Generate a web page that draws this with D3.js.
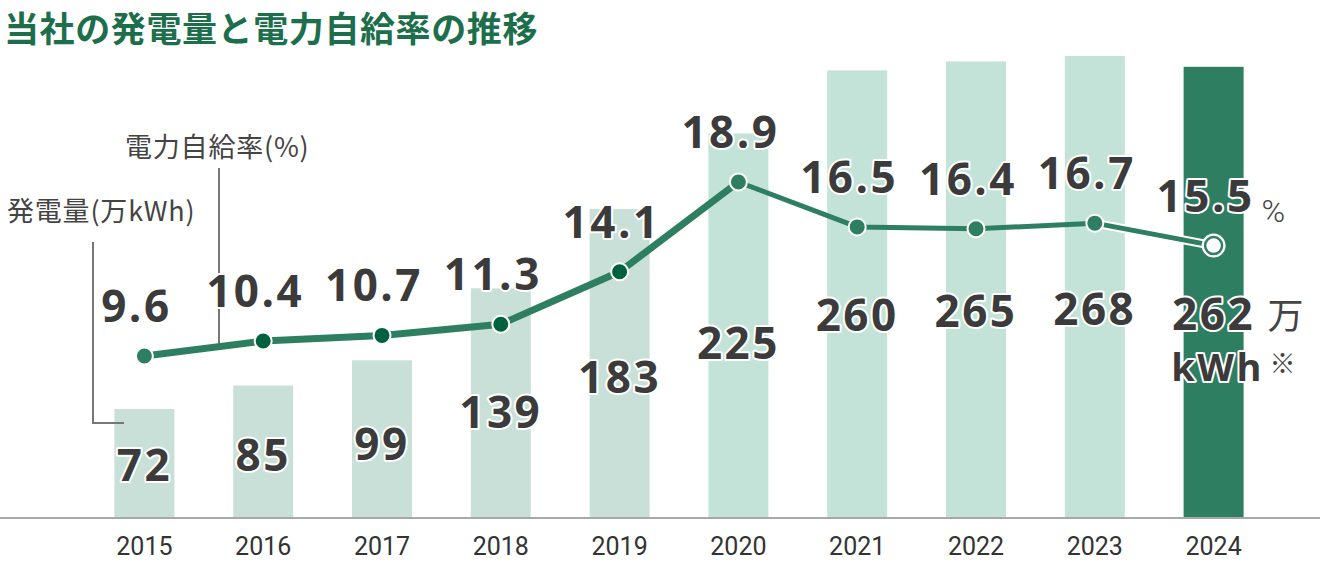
<!DOCTYPE html>
<html><head><meta charset="utf-8">
<script src="https://cdn.jsdelivr.net/npm/d3@7/dist/d3.min.js"></script>
<style>
body{margin:0;background:#fff}
svg{display:block}
.num{font-family:"Open Sans","Noto Sans",sans-serif;font-weight:700;fill:#3b3b3b;stroke:#fff;stroke-width:4px;paint-order:stroke;stroke-linejoin:round;letter-spacing:2.5px}
</style>
</head><body>
<svg id="c" width="1320" height="562"></svg>
<script>
// ---- data ----
const years = ["2015","2016","2017","2018","2019","2020","2021","2022","2023","2024"];
const generation = [72, 85, 99, 139, 183, 225, 260, 265, 268, 262];      // 万kWh
const selfRate = [9.6, 10.4, 10.7, 11.3, 14.1, 18.9, 16.5, 16.4, 16.7, 15.5]; // %
const titleText = "当社の発電量と電力自給率の推移";
const genAxisLabel = "発電量(万kWh)";
const rateAxisLabel = "電力自給率(%)";
const rateUnit = "%";
const genUnit1 = "万";
const genUnit2 = "kWh";
const noteMark = "※";

// ---- layout ----
const W = 1320, H = 562, baseY = 517;
const svg = d3.select("#c");

const x = d3.scaleBand().domain(years).range([85, 1273]).paddingInner(0.495).paddingOuter(0.2475);
const yBar = d3.scaleLinear().domain([12, 268]).range([baseY, 56]);
const yRate = d3.scaleLinear().domain([9.6, 18.9]).range([356, 182]);
const yGenLabel = d3.scaleLinear().domain([72, 268]).range([481, 325]);
const cx = d => x(d) + x.bandwidth() / 2;
const fmt1 = d3.format(".1f");
const green = "#2e7f62";

// title
svg.append("text").attr("x", 4).attr("y", 42)
  .attr("font-family", '"Noto Sans CJK JP",sans-serif').attr("font-weight", 700)
  .attr("font-size", 35).attr("letter-spacing", "0.6px").attr("fill", "#1d6f4b").text(titleText);

// bars
const barFill = i => i === years.length - 1 ? green : (i < 5 ? "#c9e0d8" : "#c3e3d8");
svg.append("g").selectAll("rect").data(generation).join("rect")
  .attr("x", (d, i) => x(years[i])).attr("width", x.bandwidth())
  .attr("y", d => yBar(d)).attr("height", d => baseY - yBar(d))
  .attr("fill", (d, i) => barFill(i));

// axis baseline
svg.append("line").attr("x1", 0).attr("x2", W).attr("y1", baseY + 1).attr("y2", baseY + 1)
  .attr("stroke", "#a8a8a8").attr("stroke-width", 2);

// x axis
const ax = svg.append("g").attr("transform", `translate(0,${baseY + 2})`)
  .call(d3.axisBottom(x).tickSize(0).tickPadding(18));
ax.select(".domain").remove();
ax.selectAll("text").attr("font-family", "Roboto,sans-serif").attr("font-size", 25).attr("fill", "#333");

// leader lines + axis labels
const pts = selfRate.map((v, i) => [cx(years[i]), yRate(v)]);
const leadX = 219;
const t = (leadX - pts[0][0]) / (pts[1][0] - pts[0][0]);
const leadEndY = pts[0][1] + t * (pts[1][1] - pts[0][1]);
svg.append("path").attr("d", `M${leadX},168V${leadEndY}`).attr("stroke", "#777").attr("stroke-width", 2).attr("fill", "none");
svg.append("path").attr("d", `M93,242V423H124`).attr("stroke", "#777").attr("stroke-width", 2).attr("fill", "none");

const lblStyle = s => s.attr("font-family", '"Noto Sans CJK JP",sans-serif').attr("font-size", 27)
  .attr("fill", "#444").attr("letter-spacing", "0.8px");
svg.append("text").attr("x", 125).attr("y", 157).text(rateAxisLabel).call(lblStyle);
svg.append("text").attr("x", 7).attr("y", 221).text(genAxisLabel).call(lblStyle);

// line
const line = d3.line();
svg.append("path").attr("d", line(pts.slice(8))).attr("stroke", "#fff").attr("stroke-width", 9)
  .attr("fill", "none");
svg.append("path").attr("d", line(pts.slice(0, 6))).attr("stroke", green).attr("stroke-width", 7)
  .attr("fill", "none").attr("stroke-linejoin", "round");
svg.append("path").attr("d", line(pts.slice(5))).attr("stroke", green).attr("stroke-width", 5)
  .attr("fill", "none").attr("stroke-linejoin", "round");

// points
const last = years.length - 1;
svg.append("circle").attr("cx", pts[last][0]).attr("cy", pts[last][1]).attr("r", 12).attr("fill", "#fff");
svg.append("g").selectAll("circle").data(selfRate).join("circle")
  .attr("cx", (d, i) => cx(years[i])).attr("cy", d => yRate(d)).attr("r", 8.5)
  .attr("fill", (d, i) => i === last ? "#fff" : (i >= 1 && i <= 4 ? "#00613e" : green))
  .attr("stroke", (d, i) => i === last ? green : "#fff")
  .attr("stroke-width", (d, i) => i === last ? 2.5 : 2);

// rate labels
svg.append("g").selectAll("text").data(selfRate).join("text").attr("class", "num")
  .attr("x", (d, i) => cx(years[i]) - 8).attr("y", d => yRate(d) - 34)
  .attr("text-anchor", "middle").attr("font-size", 44).text(d => fmt1(d));

// generation labels
svg.append("g").selectAll("text").data(generation).join("text").attr("class", "num")
  .attr("x", (d, i) => cx(years[i])).attr("y", d => yGenLabel(d))
  .attr("text-anchor", "middle").attr("font-size", 44).text(d => d);

// units
const lx = cx(years[last]);
svg.append("text").attr("x", lx + 48).attr("y", yRate(selfRate[last]) - 24)
  .attr("font-family", "Roboto,sans-serif").attr("font-weight", 300).attr("font-size", 32).attr("fill", "#444").text(rateUnit);
svg.append("text").attr("x", lx + 54).attr("y", yGenLabel(generation[last]) - 1)
  .attr("font-family", '"Noto Sans CJK JP",sans-serif').attr("font-size", 36).attr("fill", "#444").text(genUnit1);
svg.append("text").attr("class", "num").attr("x", lx + 4).attr("y", yGenLabel(generation[last]) + 51)
  .attr("text-anchor", "middle").attr("font-size", 38).text(genUnit2);
svg.append("text").attr("x", lx + 56).attr("y", yGenLabel(generation[last]) + 43)
  .attr("font-family", '"Noto Sans CJK JP",sans-serif').attr("font-size", 26).attr("fill", "#444").text(noteMark);
</script>
</body></html>
